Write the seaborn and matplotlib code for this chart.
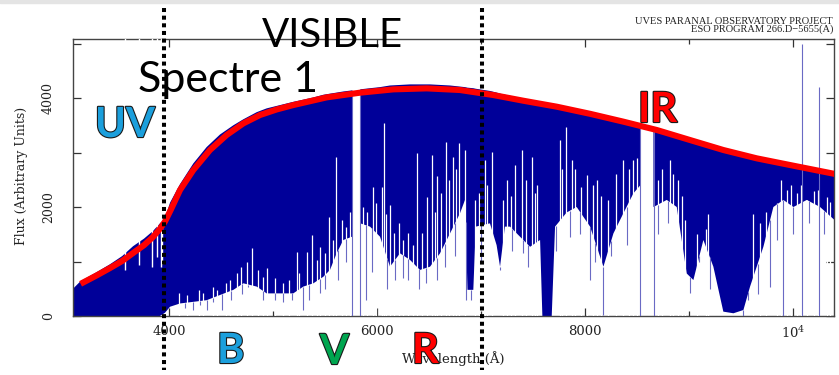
import matplotlib
matplotlib.use("Agg")
import matplotlib.pyplot as plt
import matplotlib.patheffects as pe
from matplotlib.patches import Rectangle
import numpy as np
import pandas as pd
import seaborn as sns

# continuum fit drawn in red
cont_wl = [3150, 3300, 3433, 3550, 3654, 3760, 3846, 3913, 3962, 4020, 4106, 4234,
           4394, 4554, 4715, 4875, 5035, 5195, 5516, 5837, 6157, 6478, 6798, 7118,
           7408, 7728, 8049, 8369, 8690, 9010, 9330, 9651, 9972, 10420]
cont_flux = [590, 740, 880, 1010, 1155, 1300, 1450, 1600, 1735, 1960, 2312, 2679,
             3046, 3321, 3535, 3688, 3790, 3871, 4012, 4098, 4159, 4177, 4147, 4055,
             3950, 3841, 3710, 3566, 3413, 3229, 3046, 2893, 2770, 2600]

# envelope of the dense line forest (top / bottom), nan = gap between orders
env_wl = [3077, 3150, 3300, 3433, 3550, 3654, 3760, 3846, 3913, 3962, 4010, 4106,
          4234, 4362, 4490, 4619, 4715, 4843, 4939, 5067, 5195, 5292, 5388, 5484,
          5548, 5612, 5676, 5760, 5800, 5840, 5933, 6029, 6125, 6221, 6317, 6413,
          6510, 6606, 6702, 6798, 6846, 6870, 6926, 6950, 7086, 7150, 7183, 7230,
          7279, 7375, 7472, 7568, 7590, 7680, 7712, 7824, 7920, 8049, 8177, 8273,
          8369, 8465, 8532, 8600, 8658, 8786, 8882, 8978, 9042, 9138, 9234, 9298,
          9330, 9427, 9523, 9587, 9651, 9715, 9811, 9907, 10004, 10132, 10260, 10400]
env_top = [500, 640, 800, 950, 1100, 1280, 1420, 1560, 1700, 1800, 2080, 2420,
           2800, 3100, 3330, 3500, 3610, 3740, 3810, 3870, 3930, 3970, 4010, 4060,
           4080, 4100, 4120, 4140, np.nan, 4160, 4180, 4200, 4230, 4240, 4250, 4250,
           4250, 4240, 4230, 4210, 4200, 4190, 4180, 4170, 4130, 4100, 4080, 4060,
           4040, 4000, 3960, 3920, 3900, 3870, 3860, 3830, 3790, 3740, 3680, 3630,
           3600, 3560, 3530, np.nan, 3440, 3380, 3320, 3260, 3220, 3160, 3100, 3070,
           3050, 3000, 2950, 2920, 2900, 2870, 2830, 2800, 2760, 2710, 2670, 2620]
env_bot = [0, 0, 0, 0, 0, 0, 0, 0, 0, 60, 170, 230,
           260, 290, 385, 480, 600, 540, 415, 415, 415, 540, 600, 720,
           845, 1150, 1395, 1455, np.nan, 1700, 1640, 1455, 905, 1150, 1030, 845,
           905, 1150, 1515, 1885, 2130, 480, 480, 1640, 1700, 1300, 905, 1640,
           1640, 1455, 1270, 1395, 0, 0, 1640, 1900, 2000, 1640, 905, 1515,
           1885, 2250, 2400, np.nan, 2000, 2130, 2000, 780, 660, 1395, 905, 355,
           80, 50, 110, 540, 905, 1270, 2000, 2130, 2000, 2130, 2000, 1760]

# white gaps between lines, rising from zero
gap_wl = [4100, 4170, 4290, 4330, 4420, 4460, 4550, 4590, 4650, 4690, 4747, 4795,
          4860, 4900, 4945, 5019, 5100, 5150, 5228, 5250, 5324, 5372, 5420, 5452,
          5500, 5542, 5580, 5606, 5660, 5700, 5740, 5869, 5900, 5965, 5990, 6045,
          6067, 6090, 6125, 6160, 6215, 6250, 6301, 6350, 6381, 6430, 6478, 6526,
          6560, 6574, 6620, 6663, 6690, 6734, 6760, 6792, 6846, 6942, 6980, 7038,
          7060, 7102, 7215, 7250, 7290, 7327, 7391, 7430, 7488, 7520, 7540, 7760,
          7780, 7818, 7872, 7900, 7959, 8016, 8080, 8113, 8150, 8225, 8300, 8369,
          8420, 8465, 8500, 8706, 8740, 8818, 8850, 8898, 8930, 8962, 9080, 9160,
          9186, 9619, 9680, 9740, 9843, 9880, 9940, 9980, 10036, 10080, 10132, 10200,
          10244, 10324, 10360]
gap_flux = [420, 380, 480, 420, 540, 480, 600, 660, 780, 900, 1000, 1240,
            840, 720, 875, 690, 600, 660, 1180, 780, 1180, 1490, 1030, 1270,
            1150, 1820, 1400, 2920, 1760, 1640, 1910, 2000, 1900, 2370, 2070, 2370,
            3535, 1880, 2040, 1520, 1700, 1400, 1520, 1300, 2985, 1520, 2190, 2950,
            1900, 2560, 2250, 3200, 2500, 2920, 2700, 3170, 3045, 2130, 2250, 2860,
            2400, 3015, 2130, 2500, 2200, 2770, 3045, 2500, 2920, 2250, 2400, 3230,
            2700, 3470, 2860, 2700, 2370, 2590, 2400, 2500, 2200, 2130, 2600, 2860,
            2700, 2860, 2900, 2500, 2700, 2860, 2600, 2500, 2200, 1760, 1500, 1600,
            1880, 1880, 1700, 1900, 2070, 2500, 2310, 2400, 2250, 2400, 2130, 2300,
            2310, 2190, 2100]

# white notches cut from the top (Balmer and Ca II lines)
notch_wl = [3577, 3712, 3837, 3885, 3920, 3933]
notch_flux = [840, 935, 900, 1080, 900, 950]

# single deep lines below the envelope
deep_wl = [4150, 4234, 4300, 4362, 4420, 4506, 4600, 4700, 4763, 4900, 5019, 5100,
           5180, 5292, 5350, 5452, 5500, 5628, 5700, 5891, 5950, 6100, 6173, 6250,
           6301, 6400, 6470, 6574, 6650, 6750, 6852, 6904, 7000, 7183, 7300, 7408,
           7450, 7720, 7856, 7950, 8049, 8100, 8177, 8250, 8400, 8700, 8800, 9010,
           9100, 9200, 9523, 9571, 9660, 9779, 9850, 9907, 10000, 10150, 10300]
deep_flux = [150, 110, 200, 110, 250, 110, 300, 400, 540, 300, 290, 250,
             290, 110, 300, 415, 500, 660, 1000, 290, 800, 500, 660, 700,
             660, 500, 600, 660, 900, 1100, 290, 290, 1000, 845, 1200, 1150,
             900, 1200, 1455, 1500, 660, 1000, 20, 1100, 1300, 1500, 1700, 415,
             1000, 500, 0, 290, 400, 540, 1400, 0, 1500, 1700, 1500]

# edges of the order gaps, drawn down to zero
edge_wl = [5764, 5838, 8530, 8660]

# sky emission spikes
spike_wl = [10090, 10250]
spike_flux = [4990, 4200]

# dotted separators of the visible range
divider_wl = [3952, 7010]

x_ticks = [4000, 6000, 8000, 10000]
x_ticklabels = ["4000", "6000", "8000", "$10^4$"]

W, H = 839, 375
def fx(px):
    return px / W
def fy(py):
    return 1 - py / H

sns.set_style("ticks")
plt.rcParams["font.family"] = ["DejaVu Serif"]
plt.rcParams["mathtext.fontset"] = "dejavuserif"

fig = plt.figure(figsize=(W / 100, H / 100), dpi=100)
ax = fig.add_axes([fx(73), fy(316), fx(834) - fx(73), fy(39) - fy(316)])

navy = "#000099"
light = "#6a6ac4"
ax.fill_between(env_wl, env_bot, env_top, color=navy, lw=0, zorder=2)

ax.vlines(gap_wl, 0, gap_flux, color="white", lw=0.9, zorder=3)
ax.vlines(notch_wl, notch_flux, 5200, color="white", lw=1.0, zorder=3)

wl_arr = np.array(env_wl, float)
bot_arr = np.array(env_bot, float)
top_arr = np.array(env_top, float)
ok = ~np.isnan(bot_arr)
deep_top = np.interp(deep_wl, wl_arr[ok], bot_arr[ok])
ax.vlines(deep_wl, deep_flux, deep_top, color=light, lw=0.8, zorder=4)
edge_top = np.interp(edge_wl, wl_arr[ok], top_arr[ok])
ax.vlines(edge_wl, 0, edge_top, color=light, lw=0.8, zorder=4)
ax.vlines(spike_wl, 0, spike_flux, color=light, lw=0.8, zorder=4)

cont = pd.DataFrame({"wl": cont_wl, "flux": cont_flux})
sns.lineplot(data=cont, x="wl", y="flux", ax=ax, color="#ff0000", lw=4.4,
             zorder=5, solid_capstyle="butt")

for wl in divider_wl:
    ax.plot([wl, wl], [5650, -990], color="black", lw=2.9, ls=(0, (1, 0.9)),
            clip_on=False, zorder=8)

ax.set_xlim(3077, 10394)
ax.set_ylim(0, 5083)
ax.set_xticks(x_ticks)
ax.set_xticklabels(x_ticklabels)
ax.set_xticks([5000, 7000, 9000], minor=True)
ax.set_yticks([0, 2000, 4000])
ax.set_yticks([1000, 3000, 5000], minor=True)
ax.tick_params(direction="in", top=True, right=True, which="both", color="#333333",
               width=0.9)
ax.tick_params(axis="x", which="major", length=5.5, pad=6.5, labelsize=9.5,
               labelcolor="#222222")
ax.tick_params(axis="x", which="minor", length=3.5)
ax.tick_params(axis="y", which="both", length=5.5)
ax.tick_params(axis="y", which="major", pad=13, labelsize=9, labelrotation=90,
               labelcolor="#222222")
for lab in ax.get_yticklabels():
    lab.set_va("center")
for s in ax.spines.values():
    s.set_color("#444444")
    s.set_linewidth(1.0)

ax.set_xlabel("Wavelength (Å)", fontsize=9.5, color="#222222")
ax.xaxis.set_label_coords(0.5, -0.128)
ax.set_ylabel("Flux (Arbitrary Units)", fontsize=9, color="#222222")
ax.yaxis.set_label_coords(-0.059, 0.505)
ax.grid(False)

fig.text(fx(833), fy(24), "UVES PARANAL OBSERVATORY PROJECT", ha="right",
         va="baseline", fontsize=7.5, family="Liberation Serif", color="#222222")
fig.text(fx(833), fy(32), "ESO PROGRAM 266.D\u22125655(A)", ha="right",
         va="baseline", fontsize=7.5, family="Liberation Serif", color="#222222")

outline = [pe.withStroke(linewidth=1.6, foreground="#1a1a1a")]
fig.text(fx(262), fy(47), "VISIBLE", fontsize=29, family="Lato", color="black",
         va="baseline", zorder=9)
fig.text(fx(138), fy(92), "Spectre 1", fontsize=31, family="Lato", color="black",
         va="baseline", zorder=9)
labels = [("UV", 95, 137, "#1b9fdc"), ("IR", 638, 122, "#ff0000"),
          ("B", 217, 363, "#1b9fdc"), ("V", 320, 364, "#00a650"),
          ("R", 412, 363, "#ff0000")]
for txt, px, py, col in labels:
    fig.text(fx(px), fy(py), txt, fontsize=30, family="Lato", weight="bold",
             color=col, va="baseline", path_effects=outline, zorder=9)

fig.patches.append(Rectangle((0, fy(3)), 1, 1 - fy(3), transform=fig.transFigure,
                             color="#e4e4e4", zorder=0))

fig.savefig("out.png", dpi=100)
